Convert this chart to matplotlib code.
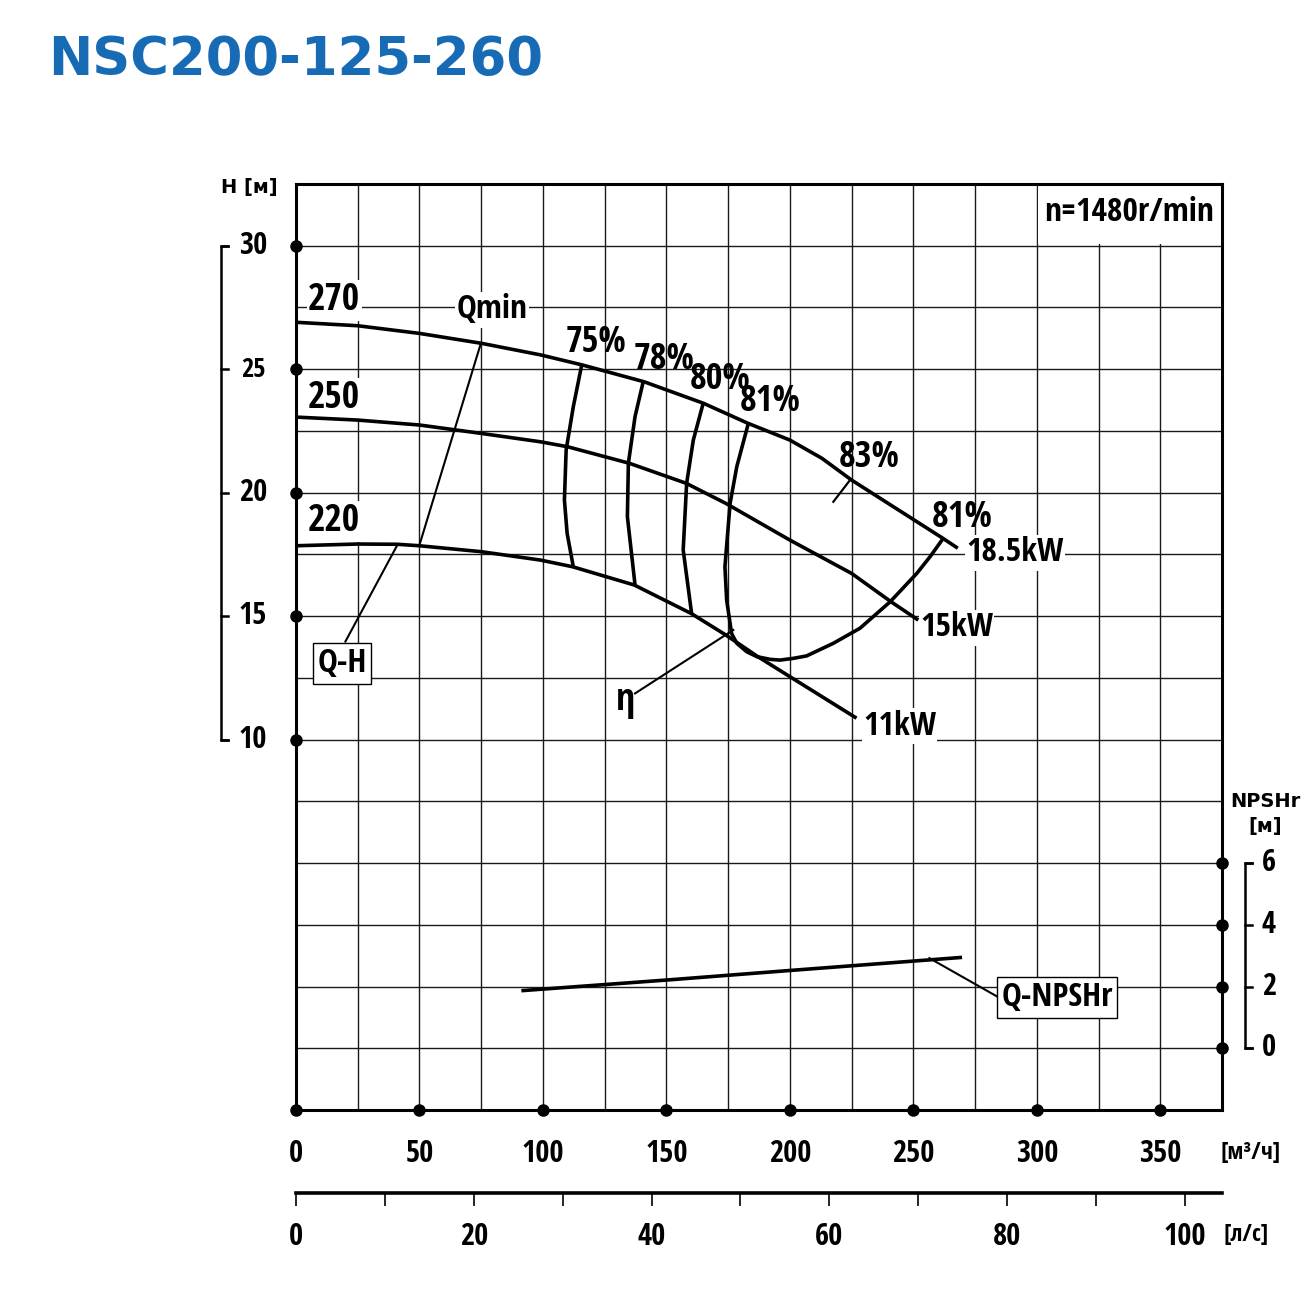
import warnings
import numpy as np
import matplotlib
matplotlib.use('Agg')
import matplotlib.pyplot as plt
from matplotlib import font_manager as fm
from matplotlib.textpath import TextToPath

# pick the narrowest bold face among the plain sans families
allowed = {'Liberation Sans Narrow', 'Liberation Sans', 'DejaVu Sans', 'Noto Sans', 'Roboto',
           'Roboto Condensed', 'Open Sans', 'Open Sans Condensed', 'Lato', 'Inter',
           'Noto Sans Condensed', 'Noto Sans ExtraCondensed', 'Noto Sans SemiCondensed',
           'DejaVu Sans Condensed', 'Open Sans SemiCondensed', 'Open Sans Condensed ExtraBold'}
t2p = TextToPath()
narrow, stretch, best = 'DejaVu Sans', 'normal', 1e9
seen = set()
with warnings.catch_warnings():
    warnings.simplefilter('ignore')
    for f in fm.fontManager.ttflist:
        key = (f.name, f.stretch)
        if key in seen or f.name not in allowed:
            continue
        seen.add(key)
        try:
            fp = fm.FontProperties(family=f.name, stretch=f.stretch, weight='bold', size=100)
            w, h, d = t2p.get_text_width_height_descent('270kW', fp, ismath=False)
        except Exception:
            continue
        if h > 50 and w > 50 and w / h < best:
            narrow, stretch, best = f.name, f.stretch, w / h

# ---- data ----
q_ticks = [0, 50, 100, 150, 200, 250, 300, 350]
ls_ticks = [0, 10, 20, 30, 40, 50, 60, 70, 80, 90, 100]
h_ticks = [30, 25, 20, 15, 10]
npsh_ticks = [6, 4, 2, 0]

# Q-H curves for impeller diameters (Q m3/h, H m)
q_270 = [0, 25, 50, 75, 99, 116, 141, 165, 183, 200, 213, 225, 262, 268]
h_270 = [26.9, 26.76, 26.45, 26.05, 25.58, 25.17, 24.49, 23.62, 22.81, 22.13, 21.39, 20.51, 18.15, 17.75]
q_250 = [0, 25, 50, 75, 99, 110, 135, 158, 174, 200, 225, 241, 252]
h_250 = [23.06, 22.94, 22.74, 22.40, 22.06, 21.86, 21.19, 20.38, 19.57, 18.08, 16.73, 15.58, 14.84]
q_220 = [0, 25, 41, 50, 75, 99, 112, 137, 160, 174, 187, 200, 226, 227]
h_220 = [17.85, 17.92, 17.91, 17.85, 17.61, 17.27, 17.0, 16.26, 15.11, 14.24, 13.36, 12.55, 10.93, 10.87]

# iso-efficiency lines
q_e75 = [115.7, 112.3, 109.4, 108.7, 109.8, 112.3]
h_e75 = [25.17, 23.48, 21.73, 19.70, 18.35, 17.0]
q_e78 = [140.6, 137.3, 134.6, 134.2, 137.3]
h_e78 = [24.49, 23.08, 21.19, 19.03, 16.26]
q_e80 = [164.9, 160.9, 158.2, 156.8, 160.2]
h_e80 = [23.62, 22.13, 20.38, 17.68, 15.11]
q_e81 = [183.2, 178.5, 175.8, 173.7, 174.4, 176.4, 178.5, 182.5, 186.6, 192.0, 196.0, 201.4,
         206.8, 217.6, 228.4, 240.6, 251.4, 256.8, 262.1]
h_e81 = [22.81, 21.05, 19.57, 17.0, 15.65, 14.30, 13.9, 13.56, 13.36, 13.25, 13.22, 13.29,
         13.39, 13.90, 14.51, 15.58, 16.73, 17.41, 18.15]
q_e83 = [217.6, 224.6]
h_e83 = [19.63, 20.54]

# Qmin line
q_min = [74.9, 49.9]
h_min = [26.06, 17.85]

# NPSHr curve
q_npsh = [92, 150, 200, 269]
npsh = [1.87, 2.21, 2.52, 2.94]

fam = [narrow, 'DejaVu Sans']
fp_tick = fm.FontProperties(family=fam, weight='bold', stretch=stretch, size=22)
num = dict(family=fam, weight='bold', fontstretch=stretch, fontsize=27)
pct = dict(family=fam, weight='bold', fontstretch=stretch, fontsize=26)
lab = dict(family=fam, weight='bold', fontstretch=stretch, fontsize=24)
white = dict(fc='white', ec='none', pad=1)

fig = plt.figure(figsize=(13.1, 12.95), dpi=100)
fig.text(48 / 1310, 1 - 75 / 1295, 'NSC200-125-260', color='#176bb4', fontsize=38,
         weight='bold', family='DejaVu Sans', va='baseline')

ax = fig.add_axes([296 / 1310, 185 / 1295, 926 / 1310, 926 / 1295])
ax.set_xlim(0, 375)
ax.set_ylim(-5, 32.5)
ax.set_xticks(np.arange(0, 376, 25), minor=True)
ax.set_yticks(np.arange(-5, 32.6, 2.5), minor=True)
ax.set_xticks(q_ticks)
ax.set_xticklabels([str(v) for v in q_ticks])
ax.set_yticks([])
ax.grid(which='both', color='#1a1a1a', lw=1.0)
ax.tick_params(which='both', length=0)
ax.tick_params(axis='x', pad=21)
for t in ax.get_xticklabels():
    t.set_fontproperties(fp_tick)
for s in ax.spines.values():
    s.set_linewidth(2.2)

# white box behind speed label
ax.fill_between([300.6, 375], 30.06, 32.5, color='white', lw=0, zorder=1.6)

# curves (drawn above the label backgrounds)
for q, h in [(q_270, h_270), (q_250, h_250), (q_220, h_220)]:
    ax.plot(q, h, color='k', lw=2.6, zorder=4.5, solid_capstyle='butt')
for q, h in [(q_e75, h_e75), (q_e78, h_e78), (q_e80, h_e80), (q_e81, h_e81)]:
    ax.plot(q, h, color='k', lw=2.6, zorder=4.5, solid_capstyle='butt')
ax.plot(q_e83, h_e83, color='k', lw=1.6, zorder=4.5)
ax.plot(q_min, h_min, color='k', lw=1.5, zorder=4.5)

# leader lines
ax.plot([41.2, 20.0], [17.91, 13.97], color='k', lw=1.5, zorder=3)
ax.plot([137.3, 177.1], [11.87, 14.44], color='k', lw=1.5, zorder=3)

# dots on axes
ax.plot(q_ticks, [-5] * len(q_ticks), 'o', color='k', ms=8, clip_on=False, zorder=6)
ax.plot([0] * len(h_ticks), h_ticks, 'o', color='k', ms=8, clip_on=False, zorder=6)

# left H scale
ax.plot([-27.5, -30.4, -30.4, -27.5], [30, 30, 10, 10], color='k', lw=1.8, clip_on=False)
for h in h_ticks:
    ax.plot([-30.4, -27.5], [h, h], color='k', lw=1.8, clip_on=False)
    fs = 19 if h == 25 else 22
    ax.text(-17.4, h, str(h), ha='center', va='center', clip_on=False,
            family=fam, weight='bold', fontstretch=stretch, fontsize=fs)
ax.text(-19.0, 32.34, 'H [м]', ha='center', va='center', fontsize=14, weight='bold',
        family='DejaVu Sans')

# curve labels
ax.text(4.9, 27.80, '270', ha='left', va='center', bbox=white, zorder=4, **num)
ax.text(4.9, 23.83, '250', ha='left', va='center', bbox=white, zorder=4, **num)
ax.text(4.9, 18.85, '220', ha='left', va='center', bbox=white, zorder=4, **num)
ax.text(79.4, 27.40, 'Qmin', ha='center', va='center', bbox=white, zorder=4, **lab)
for q, h, s in [(121.5, 26.06, '75%'), (149.0, 25.37, '78%'), (171.8, 24.55, '80%'),
                (192.0, 23.68, '81%'), (232.0, 21.40, '83%'), (269.7, 18.97, '81%')]:
    ax.text(q, h, s, ha='center', va='center', zorder=4, **pct)
ax.text(271.3, 17.56, '18.5kW', ha='left', va='center', bbox=white, zorder=4, **lab)
ax.text(252.7, 14.52, '15kW', ha='left', va='center', bbox=white, zorder=4, **lab)
ax.text(229.6, 10.55, '11kW', ha='left', va='center', bbox=white, zorder=4, **lab)
ax.text(133.6, 11.60, 'η', ha='center', va='center', zorder=4, **num)
ax.text(18.6, 13.10, 'Q-H', ha='center', va='center', zorder=4,
        bbox=dict(boxstyle='square,pad=0.12', fc='white', ec='k', lw=1.0), **lab)
ax.text(371.8, 31.33, 'n=1480r/min', ha='right', va='center', zorder=4, **lab)

# NPSHr on its own scale
ax2 = ax.twinx()
ax2.set_ylim(-2, 28)
ax2.set_yticks([])
for s in ax2.spines.values():
    s.set_visible(False)
ax2.plot(q_npsh, npsh, color='k', lw=2.6, zorder=3)
ax2.plot([256.5, 284.3], [2.92, 1.66], color='k', lw=1.5, zorder=3)
ax2.text(308.2, 1.66, 'Q-NPSHr', ha='center', va='center', zorder=4,
         bbox=dict(boxstyle='square,pad=0.12', fc='white', ec='k', lw=1.0), **lab)
ax2.plot([375] * len(npsh_ticks), npsh_ticks, 'o', color='k', ms=8, clip_on=False, zorder=6)
ax2.plot([387.2, 384.3, 384.3, 387.2], [6, 6, 0, 0], color='k', lw=1.8, clip_on=False)
for v in npsh_ticks:
    ax2.plot([384.3, 387.2], [v, v], color='k', lw=1.8, clip_on=False)
    ax2.text(394.0, v, str(v), ha='center', va='center', clip_on=False,
             family=fam, weight='bold', fontstretch=stretch, fontsize=22)
ax2.text(392.4, 8.0, 'NPSHr', ha='center', va='center', fontsize=14, weight='bold',
         family='DejaVu Sans', clip_on=False)
ax2.text(392.4, 7.17, '[м]', ha='center', va='center', fontsize=14, weight='bold',
         family='DejaVu Sans', clip_on=False)

# unit labels for flow scales
ax.text(386.7, -6.74, '[м³/ч]', ha='center', va='center', clip_on=False,
        family=fam, weight='bold', fontstretch=stretch, fontsize=17)
ax.text(384.7, -10.06, '[л/с]', ha='center', va='center', clip_on=False,
        family=fam, weight='bold', fontstretch=stretch, fontsize=17)

# l/s scale below
sec = ax.secondary_xaxis(-0.0896, functions=(lambda q: np.asarray(q) / 3.6,
                                              lambda l: np.asarray(l) * 3.6))
sec.set_xticks(ls_ticks)
sec.set_xticklabels([str(v) if v % 20 == 0 else '' for v in ls_ticks])
sec.spines['bottom'].set_linewidth(2.6)
sec.tick_params(length=9, width=1.2, direction='out', pad=12)
for t in sec.get_xticklabels():
    t.set_fontproperties(fp_tick)

fig.savefig('out.png', dpi=100)
